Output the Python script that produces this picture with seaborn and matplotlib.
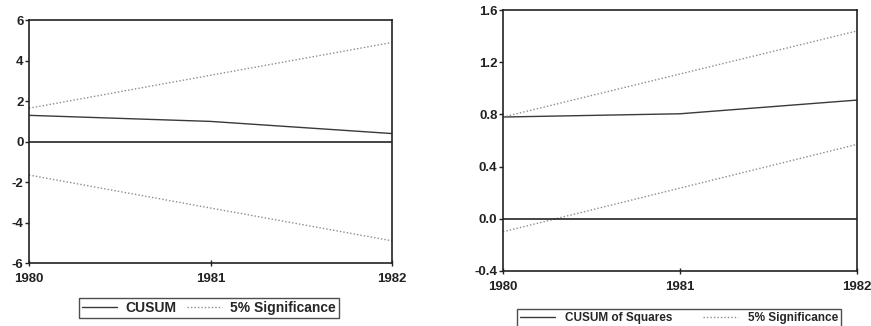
import matplotlib
matplotlib.use("Agg")
import matplotlib.pyplot as plt
import seaborn as sns
import pandas as pd

sns.set_theme(style="white")
plt.rcParams['font.family'] = ['Liberation Sans', 'DejaVu Sans']

years = [1980, 1981, 1982]
cusum = [1.3, 1.0, 0.4]
cusum_upper = [1.65, 3.28, 4.9]
cusum_lower = [-1.65, -3.28, -4.9]

cusumsq = [0.78, 0.805, 0.91]
sq_upper = [0.78, 1.11, 1.44]
sq_lower = [-0.10, 0.235, 0.57]

left_yticks = [-6, -4, -2, 0, 2, 4, 6]
right_yticks = [-0.4, 0.0, 0.4, 0.8, 1.2, 1.6]
right_yticklabels = ["-0.4", "0.0", "0.4", "0.8", "1.2", "1.6"]
xticks = [1980, 1981, 1982]

fig = plt.figure(figsize=(8.71, 3.26), dpi=100)
ax1 = fig.add_axes([0.0333, 0.193, 0.4168, 0.745])
ax2 = fig.add_axes([0.5775, 0.169, 0.4064, 0.800])

main_color = "#3a3a3a"
sig_color = "#8c8c8c"

def panel(ax, main, up, lo, main_label, ylim, yticks, yticklabels):
    df = pd.DataFrame({"year": years, "main": main, "up": up, "lo": lo})
    sns.lineplot(data=df, x="year", y="main", ax=ax, color=main_color, lw=1.0, label=main_label)
    sns.lineplot(data=df, x="year", y="up", ax=ax, color=sig_color, lw=1.0, linestyle=(0, (1, 1.5)), label="5% Significance")
    sns.lineplot(data=df, x="year", y="lo", ax=ax, color=sig_color, lw=1.0, linestyle=(0, (1, 1.5)), label="_nolegend_")
    ax.axhline(0, color="#111111", lw=1.1)
    ax.set_xlim(1980, 1982)
    ax.set_ylim(*ylim)
    ax.set_xticks(xticks)
    ax.set_xticklabels([str(x) for x in xticks])
    ax.set_yticks(yticks)
    ax.set_yticklabels(yticklabels)
    ax.set_xlabel("")
    ax.set_ylabel("")
    for s in ax.spines.values():
        s.set_color("#222222")
        s.set_linewidth(1.2)
    ax.tick_params(axis="both", which="both", direction="out", length=3, width=1, color="#222222",
                   labelsize=9.5, left=True, bottom=True)
    ax.tick_params(axis="y", pad=1)
    ax.tick_params(axis="x", pad=5, direction="inout", length=4)
    for lab in ax.get_xticklabels() + ax.get_yticklabels():
        lab.set_fontweight("bold")
        lab.set_color("#222222")
    ax.legend_.remove()

panel(ax1, cusum, cusum_upper, cusum_lower, "CUSUM", (-6, 6), left_yticks, [str(t) for t in left_yticks])
panel(ax2, cusumsq, sq_upper, sq_lower, "CUSUM of Squares", (-0.4, 1.6), right_yticks, right_yticklabels)

h1, l1 = ax1.get_legend_handles_labels()
leg1 = fig.legend(h1, l1, loc="center", bbox_to_anchor=(209/871, 1 - 308/326), ncol=2, frameon=True,
                  fancybox=False, edgecolor="#222222", handlelength=2.5, columnspacing=0.8,
                  borderpad=0.25, handletextpad=0.6, prop={"size": 10, "weight": "bold"})
leg1.get_frame().set_linewidth(1.0)

h2, l2 = ax2.get_legend_handles_labels()
leg2 = fig.legend(h2, l2, loc="center", bbox_to_anchor=(679/871, 1 - 318/326), ncol=2, frameon=True,
                  fancybox=False, edgecolor="#222222", handlelength=3.0, columnspacing=2.6,
                  borderpad=0.25, handletextpad=0.8, prop={"size": 8.5, "weight": "bold"})
leg2.get_frame().set_linewidth(1.0)

fig.savefig("out.png", dpi=100)
